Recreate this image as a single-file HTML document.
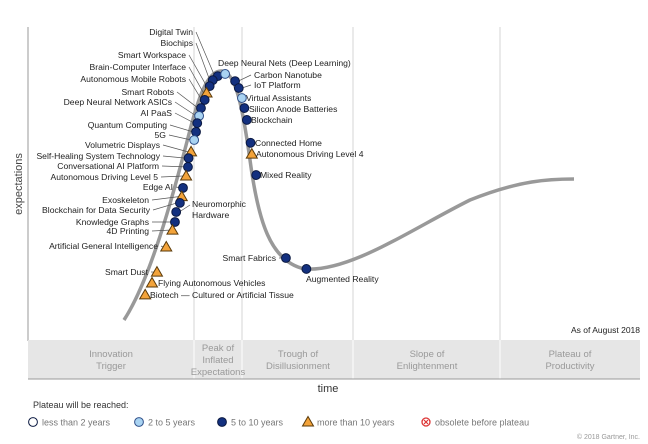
<!DOCTYPE html>
<html><head><meta charset="utf-8"><style>
html,body{margin:0;padding:0;background:#fff;}
svg{display:block;font-family:"Liberation Sans",sans-serif;}
</style></head><body>
<svg id="chart" width="648" height="444" viewBox="0 0 648 444">
<g id="bg"></g><g id="curve-layer"></g><g id="lead"></g><g id="pts"></g><g id="lbl"></g><g id="legend"></g>
</svg>
<script>
// data: position along time axis (0-100) and expectation (0-100); category 0 dark(5-10),1 light(2-5),2 triangle(>10)
const names=["Digital Twin","Biochips","Smart Workspace","Brain-Computer Interface","Autonomous Mobile Robots","Smart Robots","Deep Neural Network ASICs","AI PaaS","Quantum Computing","5G","Volumetric Displays","Self-Healing System Technology","Conversational AI Platform","Autonomous Driving Level 5","Edge AI","Exoskeleton","Blockchain for Data Security","Neuromorphic Hardware","Knowledge Graphs","4D Printing","Artificial General Intelligence","Smart Dust","Flying Autonomous Vehicles","Biotech — Cultured or Artificial Tissue","Deep Neural Nets (Deep Learning)","Carbon Nanotube","IoT Platform","Virtual Assistants","Silicon Anode Batteries","Blockchain","Connected Home","Autonomous Driving Level 4","Mixed Reality","Smart Fabrics","Augmented Reality"];
const timeVals=[30.6,29.8,29.3,28.8,28.5,27.9,27.6,27.3,27.1,26.8,26.3,25.9,25.8,25.5,25.0,24.8,24.5,23.9,23.7,23.3,22.3,20.8,20.0,18.9,31.8,33.4,34.0,34.5,34.9,35.3,35.9,36.1,36.8,41.6,44.9];
const expectVals=[84.3,83.0,81.1,78.9,76.7,74.1,71.6,69.3,66.5,63.9,60.1,58.1,55.3,52.4,48.6,45.8,43.8,40.9,37.7,35.1,29.7,21.7,18.2,14.4,85.0,82.7,80.5,77.3,74.1,70.3,63.0,59.4,52.7,26.2,22.7];
const category=[0,0,0,2,0,0,1,0,0,1,2,0,0,2,0,2,0,0,0,2,2,2,2,2,1,0,0,1,0,0,0,2,0,0,0];
const legendLabels=["less than 2 years","2 to 5 years","5 to 10 years","more than 10 years","obsolete before plateau"];
const phaseLabels=[["Innovation","Trigger"],["Peak of","Inflated","Expectations"],["Trough of","Disillusionment"],["Slope of","Enlightenment"],["Plateau of","Productivity"]];

const X0=28,Y0=340,SX=6.2,SY=3.13;
function sx(v){return X0+v*SX;}
function sy(v){return Y0-v*SY;}
// label layout: [anchor side, text x, text y, leader?]
const labelLayout=[["e",193,35],["e",193,46],["e",186,58],["e",186,70],["e",186,82],["e",174,95],["e",172,105],["e",172,116],["e",167,128],["e",166,138],["e",160,148],["e",160,159],["e",159,169],["e",158,180],["e",173,190],["e",149,203],["e",150,213],["s",192,210],["e",149,225],["e",149,234],["e",158,249],["e",148,275],["s",158,286],["s",150,298],["s",218,66],["r",254,78],["r",254,88],["s",246,101],["s",249,112],["s",251,123],["s",255,146],["s",256,157],["s",260,178],["e",276,261],["s",306,282]];

const NS="http://www.w3.org/2000/svg";
function mk(tag,attrs,parent){const e=document.createElementNS(NS,tag);for(const k in attrs)e.setAttribute(k,attrs[k]);parent.appendChild(e);return e;}
const bg=document.getElementById('bg');
let e=mk('line',{x1:28,y1:27,x2:28,y2:341,stroke:'#bbb','stroke-width':1.5},bg);


[194,242,353,500].forEach(x=>{
 let d=mk('line',{x1:x,y1:27,x2:x,y2:379,stroke:'#d4d4d4','stroke-width':1},bg);
 
 
});
e=mk('rect',{x:28,y:340,width:612,height:39,fill:'#e6e6e6'},bg);


[194,242,353,500].forEach(x=>{mk('line',{x1:x,y1:340,x2:x,y2:379,stroke:'#fff','stroke-width':1},bg);});
mk('line',{x1:28,y1:379,x2:640,y2:379,stroke:'#999','stroke-width':1},bg);
const phaseCenters=[111,218,298,427,570];
phaseLabels.forEach((ls,i)=>{
 const n=ls.length,start=n===3?351:357;
 ls.forEach((l,j)=>{
  let t=mk('text',{x:phaseCenters[i],y:start+j*12,'font-size':9.5,fill:'#999','text-anchor':'middle'},bg);t.textContent=l;
  
  
 });
});
let t=mk('text',{x:640,y:333,'font-size':8.5,fill:'#222','text-anchor':'end'},bg);t.textContent="As of August 2018";


t=mk('text',{x:328,y:392,'font-size':11,fill:'#333','text-anchor':'middle'},bg);t.textContent="time";


t=mk('text',{x:22,y:184,'font-size':11,fill:'#444','text-anchor':'middle',transform:'rotate(-90 22 184)'},bg);t.textContent="expectations";


e=mk('path',{d:'M124,320 C150,280 172,200 190,130 C201,88 210,70 222,71 C236,72 243,110 250,160 C258,220 270,262 305,269 C350,272 410,230 470,200 C520,180 550,179 574,179',fill:'none',stroke:'#999','stroke-width':3.5},document.getElementById('curve-layer'));



const lead=document.getElementById('lead'),pts=document.getElementById('pts'),lbl=document.getElementById('lbl');
function marker(cat,x,y,parent){
 if(cat===2) return mk('polygon',{points:`${x},${y-5.5} ${x-5.5},${y+4} ${x+5.5},${y+4}`,fill:'#f3a33a',stroke:'#5a3a0a','stroke-width':1},parent);
 return mk('circle',{cx:x,cy:y,r:4.4,fill:cat===1?'#a9d3f2':(cat===0?'#13307f':'#fff'),stroke:cat===1?'#30508a':'#0a1840','stroke-width':1},parent);
}
names.forEach((nm,i)=>{
 const x=sx(timeVals[i]),y=sy(expectVals[i]);
 const L=labelLayout[i];
 if(L[0]==='e'){
  let ln=mk('line',{x1:L[1]+3,y1:L[2]-3,x2:x-3,y2:y,stroke:'#555','stroke-width':0.7},lead);
  
  
 }
 if(L[0]==='r'){
  let ln=mk('line',{x1:x+3,y1:y,x2:L[1]-3,y2:L[2]-3,stroke:'#555','stroke-width':0.7},lead);
  
  
 }
 const m=marker(category[i],x,y,pts);
 
 
 if(nm==="Neuromorphic Hardware"){
  [["Neuromorphic",L[2]-3],["Hardware",L[2]+8]].forEach(p=>{let tt=mk('text',{x:L[1],y:p[1],'font-size':8.6,fill:'#222'},lbl);tt.textContent=p[0];
   
   });
  mk('line',{x1:x+3,y1:y,x2:L[1]-2,y2:L[2]-5,stroke:'#555','stroke-width':0.7},lead);
  return;
 }
 let tt=mk('text',{x:L[1],y:L[2],'font-size':8.6,fill:'#222','text-anchor':L[0]==='e'?'end':'start'},lbl);
 tt.textContent=nm;
 
 
});
const lg=document.getElementById('legend');
t=mk('text',{x:33,y:408,'font-size':9,fill:'#333'},lg);t.textContent="Plateau will be reached:";


const lgX=[33,139,222,308,426];
legendLabels.forEach((l,i)=>{
 const cx=lgX[i],cy=422;
 let m;
 if(i===4){m=mk('circle',{cx:cx,cy:cy,r:4,fill:'#fff',stroke:'#d33','stroke-width':1.3},lg);
  mk('path',{d:`M${cx-2},${cy-2}L${cx+2},${cy+2}M${cx+2},${cy-2}L${cx-2},${cy+2}`,stroke:'#d33','stroke-width':1.2},lg);}
 else m=marker(i===0?3:(i===1?1:(i===2?0:2)),cx,cy,lg);
 
 
 let tt=mk('text',{x:cx+9,y:cy+3.5,'font-size':9,fill:'#777'},lg);tt.textContent=l;
 
 
});
t=mk('text',{x:640,y:439,'font-size':7,fill:'#999','text-anchor':'end'},lg);t.textContent="© 2018 Gartner, Inc.";


</script>
</body></html>
